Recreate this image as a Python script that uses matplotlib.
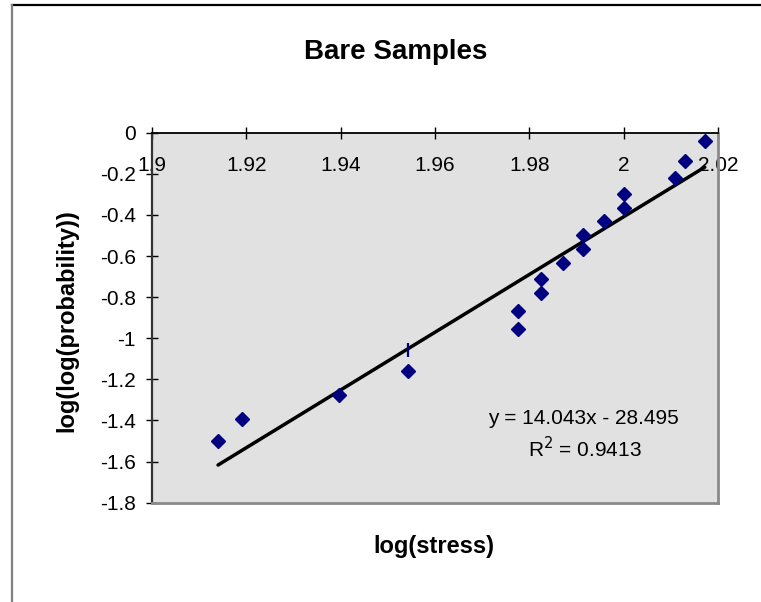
import matplotlib
matplotlib.use("Agg")
import matplotlib.pyplot as plt
from matplotlib.lines import Line2D

plt.rcParams["font.family"] = ["Liberation Sans", "DejaVu Sans"]
plt.rcParams["axes.unicode_minus"] = False

# Measured samples: log(stress) vs log(log(probability))
log_stress = [1.9140, 1.9190, 1.9396, 1.9543, 1.9776, 1.9776, 1.9824, 1.9824,
              1.9871, 1.9913, 1.9913, 1.9958, 2.0001, 2.0001, 2.0109, 2.0130,
              2.0172]
log_log_prob = [-1.498, -1.391, -1.276, -1.158, -0.955, -0.866, -0.778, -0.710,
                -0.632, -0.564, -0.499, -0.431, -0.368, -0.298, -0.222, -0.136,
                -0.039]

# Small stray mark near the fourth sample
stray_x = [1.9543]
stray_y = [-1.055]

# Linear trendline as reported on the chart
slope = 14.043
intercept = -28.495
r_squared = 0.9413

x_ticks = [1.9, 1.92, 1.94, 1.96, 1.98, 2.0, 2.02]
x_tick_labels = ["1.9", "1.92", "1.94", "1.96", "1.98", "2", "2.02"]
y_ticks = [0, -0.2, -0.4, -0.6, -0.8, -1.0, -1.2, -1.4, -1.6, -1.8]
y_tick_labels = ["0", "-0.2", "-0.4", "-0.6", "-0.8", "-1", "-1.2", "-1.4",
                 "-1.6", "-1.8"]

W, H = 761, 602
fig = plt.figure(figsize=(W / 100, H / 100), dpi=100)
fig.patch.set_facecolor("white")

# Outer chart frame (top and left edges)
fig.add_artist(Line2D([12 / W, 1.0], [1 - 4.5 / H, 1 - 4.5 / H],
                      transform=fig.transFigure, color="black", lw=1.6))
fig.add_artist(Line2D([12 / W, 12 / W], [0.0, 1 - 4.5 / H],
                      transform=fig.transFigure, color="#808080", lw=1.6))

left, right, top, bottom = 152, 718, 132.7, 502.7
ax = fig.add_axes([left / W, 1 - bottom / H, (right - left) / W, (bottom - top) / H])
ax.set_facecolor("#e1e1e1")
ax.set_xlim(1.9, 2.02)
ax.set_ylim(-1.8, 0)

for side in ("right", "bottom"):
    ax.spines[side].set_color("#8a8a8a")
    ax.spines[side].set_linewidth(2.0)
ax.spines["top"].set_color("black")
ax.spines["top"].set_linewidth(1.3)
ax.spines["left"].set_color("#333333")
ax.spines["left"].set_linewidth(1.6)

ax.set_xticks(x_ticks)
ax.set_xticklabels(x_tick_labels)
ax.set_yticks(y_ticks)
ax.set_yticklabels(y_tick_labels)
ax.tick_params(axis="x", top=True, bottom=False, labeltop=True, labelbottom=False,
               direction="inout", length=8.6, width=1.0, color="black",
               labelsize=15, pad=-34.5)
ax.tick_params(axis="y", left=True, right=False, direction="inout", length=8.0,
               width=1.0, color="black", labelsize=15, pad=7.5)

# Trendline across the sample range
x_lo, x_hi = min(log_stress), max(log_stress)
ax.plot([x_lo, x_hi], [slope * x_lo + intercept, slope * x_hi + intercept],
        color="black", lw=2.5, solid_capstyle="round", zorder=2)

ax.plot(log_stress, log_log_prob, linestyle="none", marker="D", markersize=7.5,
        color="#000080", markeredgecolor="#000080", zorder=3)
ax.plot(stray_x, stray_y, linestyle="none", marker="|", markersize=9.5,
        markeredgewidth=1.6, color="#000080", zorder=3)

ax.text(583, H - 418.3, f"y = {slope:.3f}x - {-intercept:.3f}", transform=None,
        fontsize=15, ha="center", va="center")
ax.text(585, H - 449, f"R$^2$ = {r_squared:.4f}", transform=None,
        fontsize=15, ha="center", va="center")

fig.text(396 / W, 1 - 51.7 / H, "Bare Samples", fontsize=20, fontweight="bold",
         ha="center", va="center")
fig.text(434 / W, 1 - 546.7 / H, "log(stress)", fontsize=17, fontweight="bold",
         ha="center", va="center")
fig.text(67 / W, 1 - 321 / H, "log(log(probability))", fontsize=17,
         fontweight="bold", ha="center", va="center", rotation=90)

fig.savefig("out.png", dpi=100)
